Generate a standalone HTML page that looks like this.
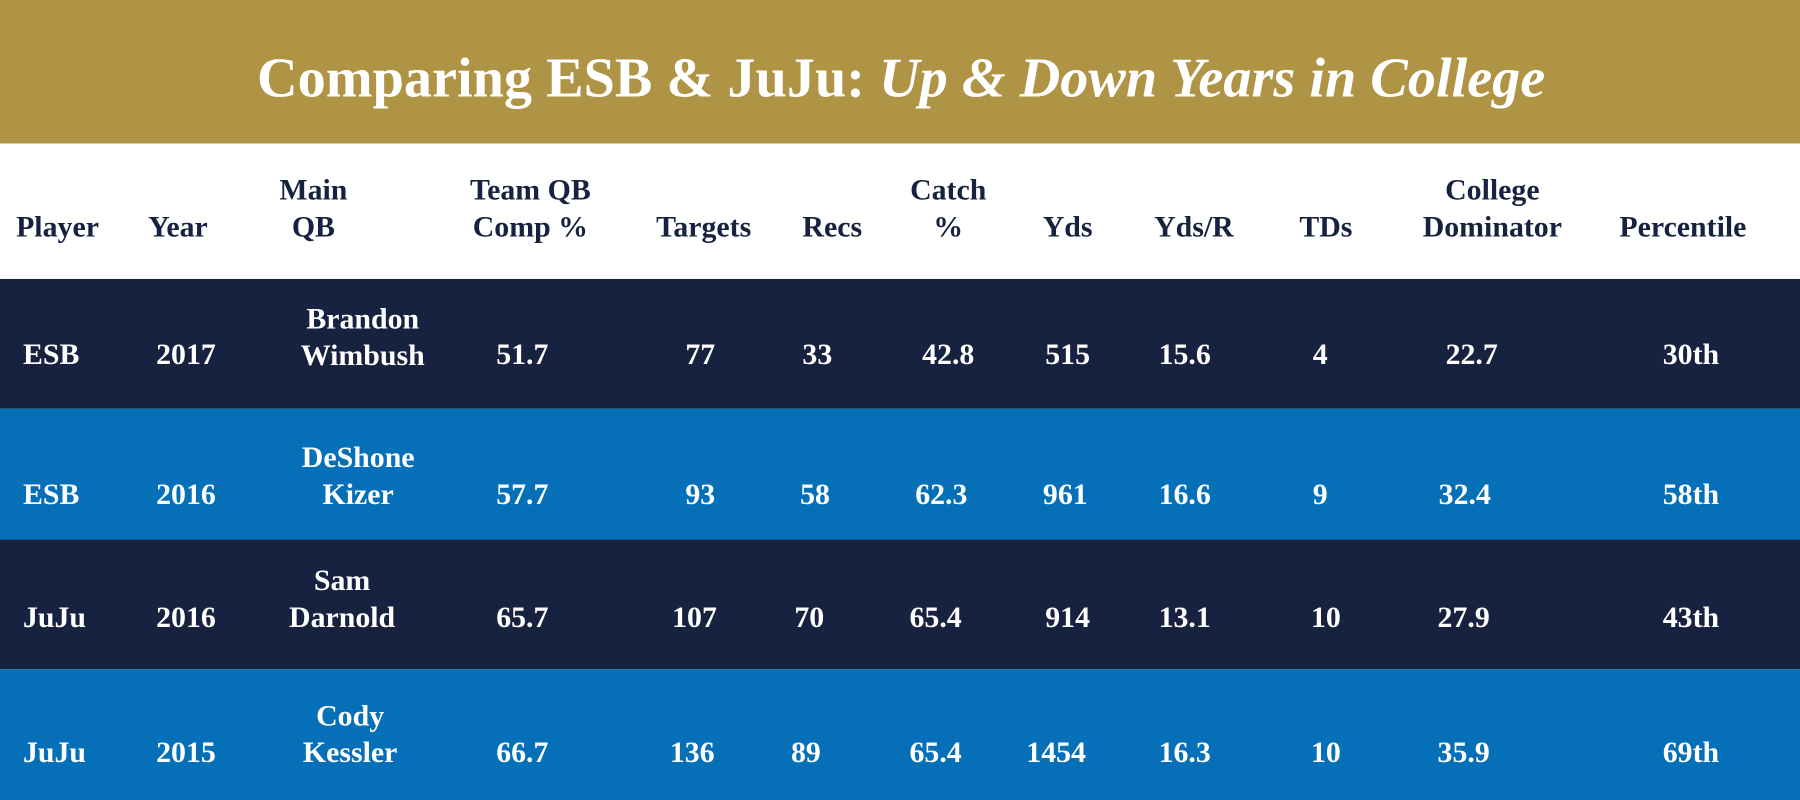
<!DOCTYPE html>
<html><head><meta charset="utf-8"><style>
html,body{margin:0;padding:0;width:1800px;height:800px;overflow:hidden;background:#fff}
#w{position:absolute;left:0;top:0;width:1568px;height:697px;transform:scale(1.147959);transform-origin:0 0;font-family:"Liberation Serif",serif;font-weight:bold}
.band{position:absolute;left:0;width:1568px}
.t{position:absolute;transform:translate(-50%,-50%);white-space:nowrap;text-align:center;line-height:32px}
.h{color:#16223f;font-size:26px}
.b{color:#fff;font-size:26px}
.l{transform:translate(0,-50%)}
</style></head><body><div id="w">
<div class="band" style="top:0;height:125px;background:#b09446"></div>
<div class="band" style="top:243px;height:113px;background:#16223f"></div>
<div class="band" style="top:356px;height:114px;background:#0570b8"></div>
<div class="band" style="top:470px;height:113px;background:#16223f"></div>
<div class="band" style="top:583px;height:114px;background:#0570b8"></div>
<div class="t" style="left:785px;top:68px;color:#fff;font-size:49px;line-height:52px">Comparing ESB &amp; JuJu: <i>Up &amp; Down Years in College</i></div>

<div class="t h l" style="left:14px;top:198px">Player</div>
<div class="t h" style="left:155px;top:198px">Year</div>
<div class="t h" style="left:273px;top:182px">Main<br>QB</div>
<div class="t h" style="left:462px;top:182px">Team QB<br>Comp %</div>
<div class="t h" style="left:613px;top:198px">Targets</div>
<div class="t h" style="left:725px;top:198px">Recs</div>
<div class="t h" style="left:826px;top:182px">Catch<br>%</div>
<div class="t h" style="left:930px;top:198px">Yds</div>
<div class="t h" style="left:1040px;top:198px">Yds/R</div>
<div class="t h" style="left:1155px;top:198px">TDs</div>
<div class="t h" style="left:1300px;top:182px">College<br>Dominator</div>
<div class="t h" style="left:1466px;top:198px">Percentile</div>

<div class="t b l" style="left:20px;top:309px">ESB</div>
<div class="t b" style="left:162px;top:309px">2017</div>
<div class="t b" style="left:316px;top:294px">Brandon<br>Wimbush</div>
<div class="t b" style="left:455px;top:309px">51.7</div>
<div class="t b" style="left:610px;top:309px">77</div>
<div class="t b" style="left:712px;top:309px">33</div>
<div class="t b" style="left:826px;top:309px">42.8</div>
<div class="t b" style="left:930px;top:309px">515</div>
<div class="t b" style="left:1032px;top:309px">15.6</div>
<div class="t b" style="left:1150px;top:309px">4</div>
<div class="t b" style="left:1282px;top:309px">22.7</div>
<div class="t b" style="left:1473px;top:309px">30th</div>

<div class="t b l" style="left:20px;top:431px">ESB</div>
<div class="t b" style="left:162px;top:431px">2016</div>
<div class="t b" style="left:312px;top:415px">DeShone<br>Kizer</div>
<div class="t b" style="left:455px;top:431px">57.7</div>
<div class="t b" style="left:610px;top:431px">93</div>
<div class="t b" style="left:710px;top:431px">58</div>
<div class="t b" style="left:820px;top:431px">62.3</div>
<div class="t b" style="left:928px;top:431px">961</div>
<div class="t b" style="left:1032px;top:431px">16.6</div>
<div class="t b" style="left:1150px;top:431px">9</div>
<div class="t b" style="left:1276px;top:431px">32.4</div>
<div class="t b" style="left:1473px;top:431px">58th</div>

<div class="t b l" style="left:20px;top:538px">JuJu</div>
<div class="t b" style="left:162px;top:538px">2016</div>
<div class="t b" style="left:298px;top:522px">Sam<br>Darnold</div>
<div class="t b" style="left:455px;top:538px">65.7</div>
<div class="t b" style="left:605px;top:538px">107</div>
<div class="t b" style="left:705px;top:538px">70</div>
<div class="t b" style="left:815px;top:538px">65.4</div>
<div class="t b" style="left:930px;top:538px">914</div>
<div class="t b" style="left:1032px;top:538px">13.1</div>
<div class="t b" style="left:1155px;top:538px">10</div>
<div class="t b" style="left:1275px;top:538px">27.9</div>
<div class="t b" style="left:1473px;top:538px">43th</div>

<div class="t b l" style="left:20px;top:656px">JuJu</div>
<div class="t b" style="left:162px;top:656px">2015</div>
<div class="t b" style="left:305px;top:640px">Cody<br>Kessler</div>
<div class="t b" style="left:455px;top:656px">66.7</div>
<div class="t b" style="left:603px;top:656px">136</div>
<div class="t b" style="left:702px;top:656px">89</div>
<div class="t b" style="left:815px;top:656px">65.4</div>
<div class="t b" style="left:920px;top:656px">1454</div>
<div class="t b" style="left:1032px;top:656px">16.3</div>
<div class="t b" style="left:1155px;top:656px">10</div>
<div class="t b" style="left:1275px;top:656px">35.9</div>
<div class="t b" style="left:1473px;top:656px">69th</div>
</div></body></html>
